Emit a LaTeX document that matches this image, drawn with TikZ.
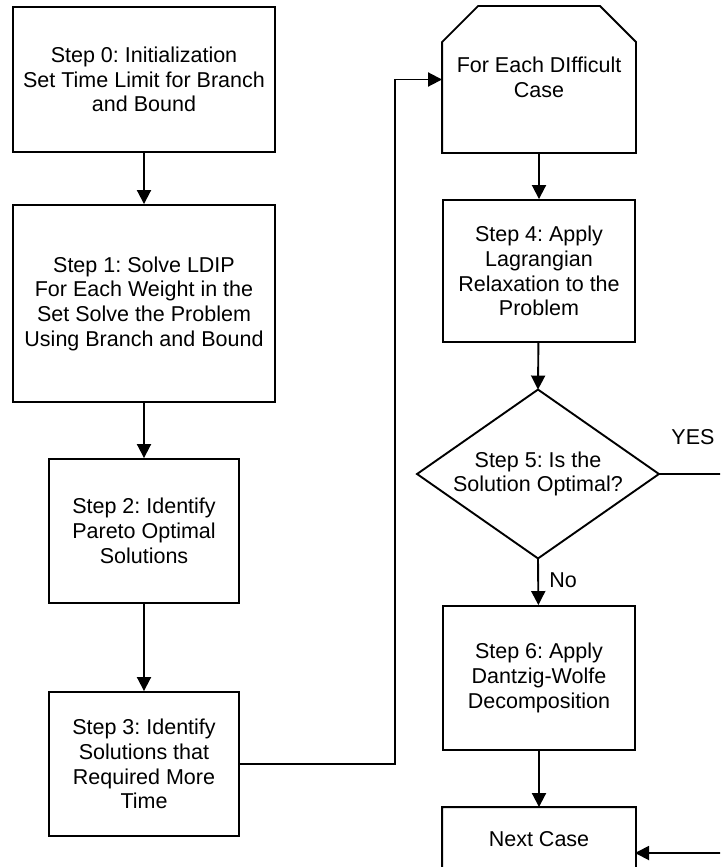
\documentclass[tikz,border=0pt]{standalone}
\usepackage{fontspec}
\setmainfont{Liberation Sans}
\usetikzlibrary{arrows.meta}
\frenchspacing
\begin{document}
\begin{tikzpicture}[x=1pt,y=-1pt,
  line width=1.9pt,
  txt/.style={font=\frenchspacing\fontsize{21.5}{24.7}\selectfont, align=center, inner sep=0pt},
  boxnode/.style={txt, draw, rectangle},
  ghost/.style={txt, rectangle},
  arr/.style={-{Triangle[length=14pt,width=14pt]}},
  lbl/.style={font=\fontsize{21.5}{24.7}\selectfont, inner sep=0pt}]
\useasboundingbox (0,0) rectangle (720,867);
\clip (0,0) rectangle (720,867);
% left column
\node[boxnode, minimum width=262, minimum height=145] (b0) at (144,79.5)
  {Step 0: Initialization\\Set Time Limit for Branch\\and Bound};
\node[boxnode, minimum width=262, minimum height=197] (b1) at (144,303.5)
  {Step 1: Solve LDIP\\For Each Weight in the\\Set Solve the Problem\\Using Branch and Bound};
\node[boxnode, minimum width=190, minimum height=144] (b2) at (144,531)
  {Step 2: Identify\\Pareto Optimal\\Solutions};
\node[boxnode, minimum width=190, minimum height=144] (b3) at (144,764)
  {Step 3: Identify\\Solutions that\\Required More\\Time};
% right column
\node[ghost, minimum width=192, minimum height=145] (oct) at (539,79.5) {};
\node[txt] (octText) at (539,77) {For Each DIfficult\\Case};
\draw ([xshift=36pt]oct.north west) -- ([xshift=-36pt]oct.north east)
  -- ([yshift=-36pt]oct.north east) -- (oct.south east) -- (oct.south west)
  -- ([yshift=-36pt]oct.north west) -- cycle;
\node[boxnode, minimum width=192, minimum height=142] (b4) at (539,271)
  {Step 4: Apply\\Lagrangian\\Relaxation to the\\Problem};
\node[ghost, minimum width=240, minimum height=167] (dia) at (538,474)
  {Step 5: Is the\\Solution Optimal?};
\draw (dia.north) -- (dia.east) -- (dia.south) -- (dia.west) -- cycle;
\node[boxnode, minimum width=192, minimum height=144] (b6) at (539,678)
  {Step 6: Apply\\Dantzig-Wolfe\\Decomposition};
\node[ghost, minimum width=192, minimum height=81] (nc) at (539,848.5) {};
\node[txt] (ncText) at (539,839) {Next Case};
\draw ([yshift=-36pt]nc.south west) -- (nc.north west) -- (nc.north east)
  -- ([yshift=-36pt]nc.south east) -- ([xshift=-36pt]nc.south east)
  -- ([xshift=36pt]nc.south west) -- cycle;
\coordinate (ncIn) at (635,853);
% connectors
\draw[arr] (b0) -- (b1);
\draw[arr] (b1) -- (b2);
\draw[arr] (b2) -- (b3);
\coordinate (c1) at (395,0);
\draw[arr] (b3.east) -- (b3.east -| c1) |- (oct.west);
\draw[arr] (oct) -- (b4);
\draw[arr] (b4) -- (dia.north);
\draw[arr] (dia.south) -- (b6);
\draw[arr] (b6) -- (nc.north);
\coordinate (c2) at (745,0);
\draw[arr] (dia.east) -- (dia.east -| c2) |- (ncIn);
% labels
\node[lbl] (yes) at (693,437) {YES};
\node[lbl] (no) at (563,580) {No};
\end{tikzpicture}
\end{document}
